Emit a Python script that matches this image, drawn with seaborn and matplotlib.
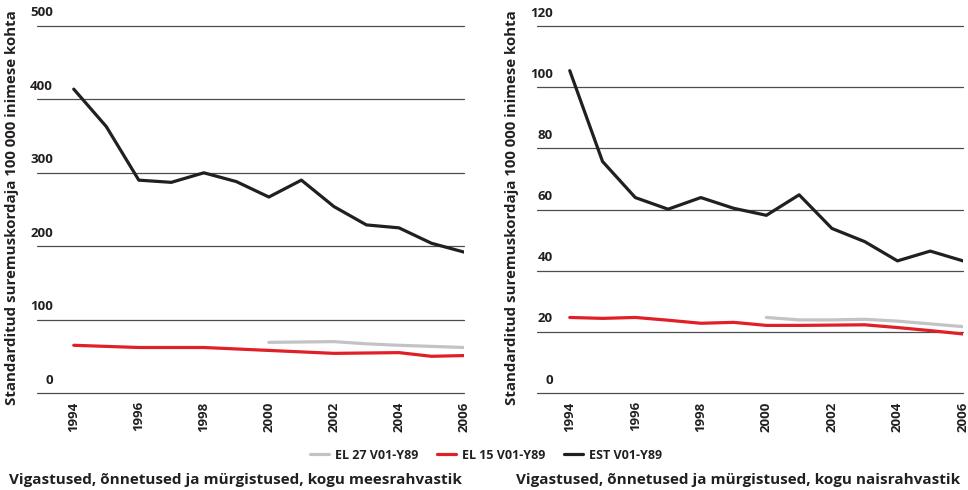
import numpy as np
import pandas as pd
import matplotlib
matplotlib.use("Agg")
import matplotlib.pyplot as plt
import matplotlib.transforms as mtransforms
from matplotlib.lines import Line2D
import seaborn as sns

# data
years = list(range(1994, 2007))
years_eu27 = list(range(2000, 2007))

men_est = [414, 363, 290, 287, 300, 288, 267, 290, 254, 229, 225, 204, 192]
men_eu15 = [65, 63.5, 62, 62, 62, 60, 58, 56, 54, 54.5, 55, 50, 51]
men_eu27 = [69, 69.5, 70, 67, 65, 63.5, 62]

women_est = [105.4, 75.7, 63.9, 60.1, 63.9, 60.4, 58.1, 64.8, 53.8, 49.5, 43.2, 46.4, 43.2]
women_eu15 = [24.7, 24.4, 24.7, 23.8, 22.8, 23.1, 22.1, 22.1, 22.2, 22.3, 21.4, 20.4, 19.3]
women_eu27 = [24.7, 23.9, 23.9, 24.1, 23.5, 22.6, 21.7]

series_names = ["EL 27 V01-Y89", "EL 15 V01-Y89", "EST V01-Y89"]
colors = {"EL 27 V01-Y89": "#c3c3c6", "EL 15 V01-Y89": "#e01f26", "EST V01-Y89": "#231f20"}

ylabel = "Standarditud suremuskordaja 100 000 inimese kohta"
title_men = "Vigastused, õnnetused ja mürgistused, kogu meesrahvastik"
title_women = "Vigastused, õnnetused ja mürgistused, kogu naisrahvastik"

men_yticks = [0, 100, 200, 300, 400, 500]
women_yticks = [0, 20, 40, 60, 80, 100, 120]
xticks = [1994, 1996, 1998, 2000, 2002, 2004, 2006]


def make_df(est, eu15, eu27):
    parts = [
        pd.DataFrame({"year": years_eu27, "value": eu27, "series": series_names[0]}),
        pd.DataFrame({"year": years, "value": eu15, "series": series_names[1]}),
        pd.DataFrame({"year": years, "value": est, "series": series_names[2]}),
    ]
    return pd.concat(parts, ignore_index=True)


sns.set_style("white")
plt.rcParams["font.family"] = ["Open Sans", "DejaVu Sans"]
plt.rcParams["font.weight"] = "bold"
text_color = "#231f20"

fig = plt.figure(figsize=(9.68, 4.90), dpi=100)
W, H = 968, 490


def draw_panel(ax, df, yticks, xlim_left):
    sns.lineplot(data=df, x="year", y="value", hue="series", hue_order=series_names,
                 palette=colors, linewidth=2.3, ax=ax, legend=False)
    ax.set_xlim(xlim_left, 2006)
    ax.set_ylim(yticks[0], yticks[-1])
    ax.set_yticks(yticks)
    ax.set_yticklabels([str(t) for t in yticks], fontsize=9.5, fontweight="bold", color=text_color)
    ax.set_xticks(xticks)
    ax.set_xticklabels([str(t) for t in xticks], rotation=90, fontsize=9.5,
                       fontweight="bold", color=text_color, va="top")
    ax.tick_params(axis="y", length=0, pad=-11.5)
    ax.tick_params(axis="x", length=0, pad=6)
    ax.grid(axis="y", color="#4d4d4d", linewidth=0.9)
    ax.grid(axis="x", visible=False)
    for gl in ax.get_ygridlines():
        gl.set_clip_on(False)
    for s in ax.spines.values():
        s.set_visible(False)
    ax.set_xlabel("")
    ax.set_ylabel("")
    offset = mtransforms.ScaledTranslation(0, 0.13, fig.dpi_scale_trans)
    for lab in ax.get_yticklabels():
        lab.set_transform(lab.get_transform() + offset)
        lab.set_va("center")


ax1 = fig.add_axes([37 / W, (H - 393) / H, (464 - 37) / W, (393 - 26) / H])
draw_panel(ax1, make_df(men_est, men_eu15, men_eu27), men_yticks, 1992.87)

ax2 = fig.add_axes([537 / W, (H - 393) / H, (963 - 537) / W, (393 - 26) / H])
draw_panel(ax2, make_df(women_est, women_eu15, women_eu27), women_yticks, 1993.0)

fig.text(12 / W, 1 - 208 / H, ylabel, rotation=90, ha="center", va="center",
         fontsize=10.8, fontweight="bold", color=text_color)
fig.text(512 / W, 1 - 208 / H, ylabel, rotation=90, ha="center", va="center",
         fontsize=10.8, fontweight="bold", color=text_color)

fig.text(235 / W, 1 - 480 / H, title_men, ha="center", va="center",
         fontsize=11, fontweight="bold", color=text_color)
fig.text(738 / W, 1 - 480 / H, title_women, ha="center", va="center",
         fontsize=11, fontweight="bold", color=text_color)

handles = [Line2D([0], [0], color=colors[n], linewidth=2.3) for n in series_names]
leg = fig.legend(handles, series_names, loc="center", bbox_to_anchor=(486 / W, 1 - 455 / H),
                 ncol=3, frameon=False, handlelength=1.5, handletextpad=0.5,
                 columnspacing=1.5, prop={"size": 9, "weight": "bold"})
for t in leg.get_texts():
    t.set_color(text_color)

fig.savefig("out.png", dpi=100)
